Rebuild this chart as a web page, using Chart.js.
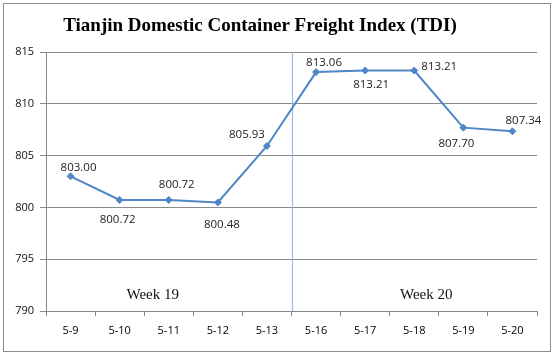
<!DOCTYPE html>
<html><head><meta charset="utf-8">
<script src="https://cdn.jsdelivr.net/npm/chart.js@4/dist/chart.umd.min.js"></script>
<style>html,body{margin:0;padding:0;background:#fff}#wrap{width:554px;height:356px;position:relative}</style>
</head><body><div id="wrap"><canvas id="c" width="554" height="356"></canvas></div>
<script>
const titleText = 'Tianjin Domestic Container Freight Index (TDI)';
const categories = ['5-9','5-10','5-11','5-12','5-13','5-16','5-17','5-18','5-19','5-20'];
const tdiValues = [803.00, 800.72, 800.72, 800.48, 805.93, 813.06, 813.21, 813.21, 807.70, 807.34];
const valueLabels = ['803.00','800.72','800.72','800.48','805.93','813.06','813.21','813.21','807.70','807.34'];
const yTicks = [790, 795, 800, 805, 810, 815];
const weekNames = ['Week 19', 'Week 20'];
const weekSplitAfter = 4; // last index of week 19

// styling: label offsets relative to point (px)
const labelOffsets = [[8,-9],[-2,20],[8,-15],[4,22],[-20,-11],[8,-9],[6,14],[25,-4],[-7,16],[11,-11]];
const weekLabelStyle = [{dx:-16, y:295},{dx:12, y:295}];

const overlay = {
  id: 'overlay',
  beforeDatasetsDraw(chart) {
    const {ctx, chartArea: a, scales: {x}} = chart;
    const xs = (x.getPixelForValue(weekSplitAfter) + x.getPixelForValue(weekSplitAfter + 1)) / 2;
    ctx.save();
    ctx.strokeStyle = '#9bbbe0';
    ctx.lineWidth = 1.2;
    ctx.beginPath();
    ctx.moveTo(Math.round(xs) + 0.5, a.top);
    ctx.lineTo(Math.round(xs) + 0.5, a.bottom);
    ctx.stroke();
    ctx.fillStyle = '#111';
    ctx.font = '15px "Liberation Serif", "Times New Roman", serif';
    ctx.textAlign = 'center';
    ctx.textBaseline = 'middle';
    const c1 = (a.left + xs) / 2, c2 = (xs + a.right) / 2;
    ctx.fillText(weekNames[0], c1 + weekLabelStyle[0].dx, weekLabelStyle[0].y);
    ctx.fillText(weekNames[1], c2 + weekLabelStyle[1].dx, weekLabelStyle[1].y);
    ctx.restore();
  },
  afterDraw(chart) {
    const {ctx} = chart;
    ctx.save();
    ctx.fillStyle = '#000';
    ctx.font = 'bold 19px "Liberation Serif", "Times New Roman", serif';
    ctx.textAlign = 'center';
    ctx.textBaseline = 'alphabetic';
    ctx.fillText(titleText, 260, 31);
    const meta = chart.getDatasetMeta(0);
    ctx.font = '11.5px "Open Sans", sans-serif';
    ctx.fillStyle = '#222';
    ctx.textBaseline = 'middle';
    meta.data.forEach((pt, i) => {
      const [dx, dy] = labelOffsets[i];
      ctx.fillText(valueLabels[i], pt.x + dx, pt.y + dy);
    });
    ctx.strokeStyle = '#8c8c8c';
    ctx.lineWidth = 1;
    ctx.strokeRect(3.5, 3.5, 547, 348);
    ctx.restore();
  }
};

new Chart(document.getElementById('c'), {
  type: 'line',
  data: {
    labels: categories,
    datasets: [{
      data: tdiValues,
      borderColor: '#4f86c6',
      backgroundColor: '#4f86c6',
      borderWidth: 2,
      pointStyle: 'rectRot',
      pointRadius: 3.5,
      pointBorderWidth: 1,
      tension: 0
    }]
  },
  options: {
    responsive: false,
    animation: false,
    layout: {padding: {left: 0, right: 17, top: 52, bottom: 0}},
    plugins: {legend: {display: false}, title: {display: false}, tooltip: {enabled: false}},
    scales: {
      x: {
        offset: true,
        grid: {offset: true, drawOnChartArea: false, color: '#868686', tickLength: 5},
        border: {color: '#868686'},
        ticks: {color: '#000', font: {family: '"Open Sans", sans-serif', size: 11}, padding: 8, maxRotation: 0, autoSkip: false},
        afterFit(s) { s.height = 45; }
      },
      y: {
        min: 790, max: 815,
        afterBuildTicks(s) { s.ticks = yTicks.map(v => ({value: v})); },
        grid: {color: '#8a8a8a', tickLength: 6},
        border: {color: '#868686'},
        ticks: {color: '#111', font: {family: '"Open Sans", sans-serif', size: 11}, padding: 6},
        afterFit(s) { s.width = 46; }
      }
    }
  },
  plugins: [overlay]
});
</script>
</body></html>
